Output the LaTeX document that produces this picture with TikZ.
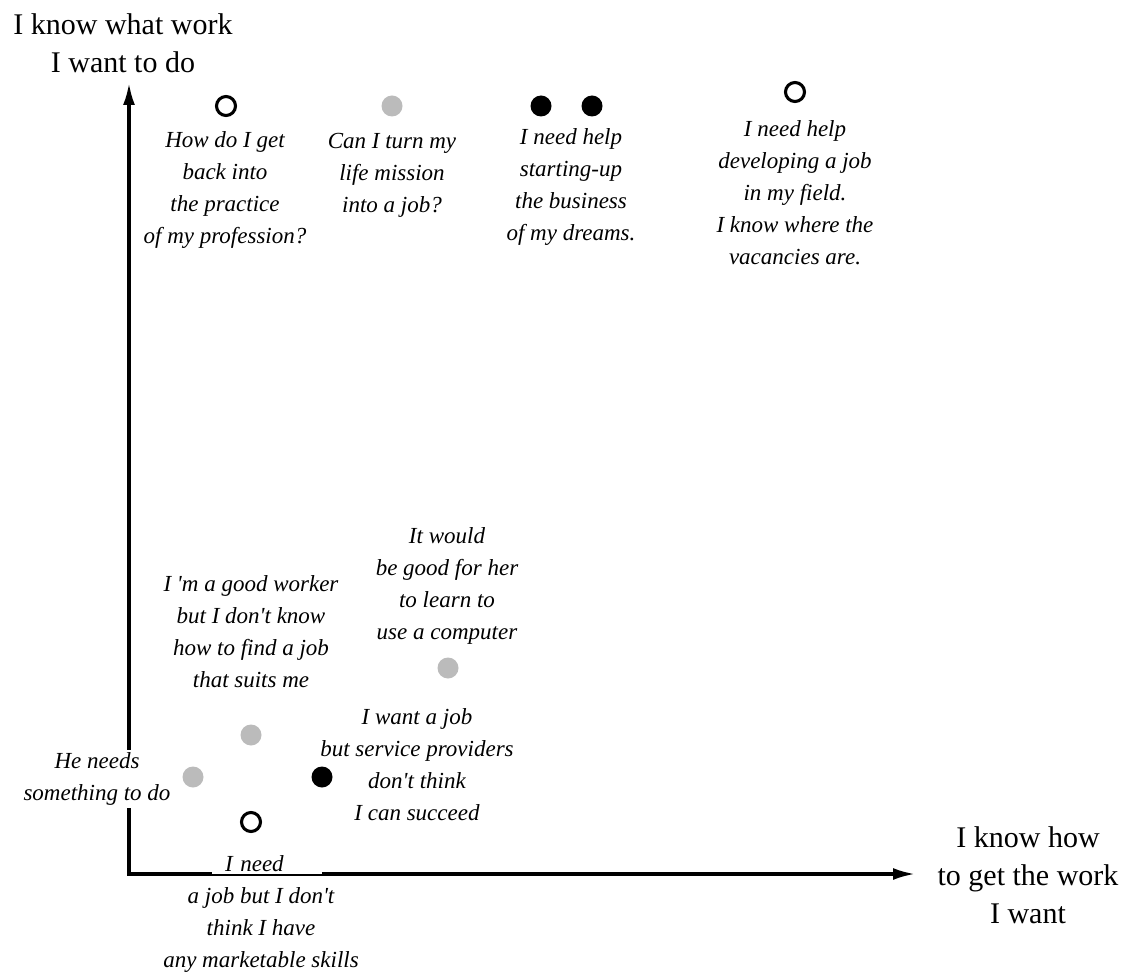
\documentclass[tikz,border=0pt]{standalone}
\usepackage{fontspec}
\setmainfont{Liberation Serif}[Ligatures=TeXOff]
\usetikzlibrary{arrows.meta}
\definecolor{dotgrey}{RGB}{187,187,187}
\begin{document}
\begin{tikzpicture}[x=1pt,y=-1pt,
  axis/.style={line width=3.1pt,
    arrows={Latex[length=22pt,width=12pt]-Latex[length=22pt,width=12pt]}},
  quote/.style={font=\fontsize{23}{32}\selectfont\itshape, align=center, inner sep=0pt},
  axislabel/.style={font=\fontsize{30}{38}\selectfont, align=center, inner sep=0pt},
  greydot/.style={circle, fill=dotgrey, minimum size=21pt, inner sep=0pt},
  blackdot/.style={circle, fill=black, minimum size=21pt, inner sep=0pt},
  opendot/.style={circle, draw=black, fill=white, line width=3.1pt, minimum size=19pt, inner sep=0pt}
]
\useasboundingbox (0,0) rectangle (1132,973);

% axes
\coordinate (O) at (129,874);
\coordinate (ytip) at (129,83);
\coordinate (xtip) at (915,874);
\draw[axis] (ytip) -- (O) -- (xtip);

% axis titles
\node[axislabel] (ylab) at (123,43) {I know what work\\I want to do};
\node[axislabel] (xlab) at (1028,875) {I know how\\to get the work\\I want};

% upper row
\node[opendot] (d1) at (226,106) {};
\node[quote] (q1) at (225,190) {How do I get\\back into\\the practice\\of my profession?};

\node[greydot] (d2) at (392,106) {};
\node[quote] (q2) at (392,175) {Can I turn my\\life mission\\into a job?};

\node[blackdot] (d3a) at (541,106) {};
\node[blackdot] (d3b) at (592,106) {};
\node[quote] (q3) at (571,187) {I need help\\starting-up\\the business\\of my dreams.};

\node[opendot] (d4) at (795,92) {};
\node[quote] (q4) at (795,193) {I need help\\developing a job\\in my field.\\I know where the\\vacancies are.};

% lower cluster
\node[quote] (q5) at (447,586) {It would\\be good for her\\to learn to\\use a computer};
\node[greydot] (d5) at (448,668) {};

\node[quote] (q6) at (251,632) {I 'm a good worker\\but I don't know\\how to find a job\\that suits me};
\node[greydot] (d6) at (251,735) {};

\node[greydot] (d7) at (193,777) {};
\node[quote, fill=white, inner sep=3pt] (q7) at (97,779) {He needs\\something to do};

\node[blackdot] (d8) at (322,777) {};
\node[quote] (q8) at (417,765) {I want a job\\but service providers\\don't think\\I can succeed};

\node[opendot] (d9) at (251,822) {};
\node[quote, fill=white, text width=84pt, align=left, inner xsep=13pt, inner ysep=2pt] (q9a) at (267,864) {I need};
\node[quote] (q9b) at (261,930) {a job but I don't\\think I have\\any marketable skills};
\end{tikzpicture}
\end{document}
